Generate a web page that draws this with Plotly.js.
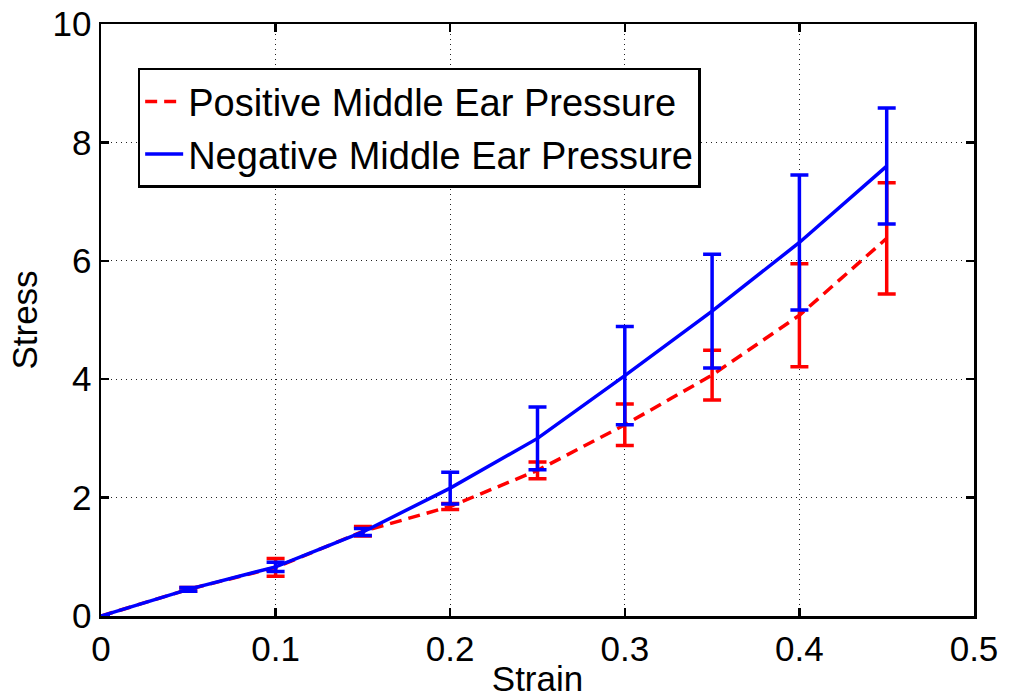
<!DOCTYPE html>
<html>
<head>
<meta charset="utf-8">
<script src="https://cdn.plot.ly/plotly-3.0.1.min.js"></script>
<style>html,body{margin:0;padding:0;background:#fff;}#chart{width:1011px;height:700px;}</style>
</head>
<body>
<div id="chart"></div>
<script>
var strain = [0, 0.05, 0.1, 0.15, 0.2, 0.25, 0.3, 0.35, 0.4, 0.45];
var posMean = [0, 0.45, 0.82, 1.43, 1.85, 2.46, 3.23, 4.07, 5.08, 6.38];
var posErr = [0, 0.03, 0.15, 0.08, 0.05, 0.14, 0.35, 0.42, 0.87, 0.94];
var negMean = [0, 0.45, 0.83, 1.42, 2.16, 3.0, 4.06, 5.15, 6.31, 7.6];
var negErr = [0, 0.03, 0.08, 0.06, 0.27, 0.53, 0.83, 0.96, 1.14, 0.98];
var seriesNames = ['Positive Middle Ear Pressure', 'Negative Middle Ear Pressure'];
var xTicks = [0, 0.1, 0.2, 0.3, 0.4, 0.5];
var yTicks = [0, 2, 4, 6, 8, 10];

var FONT = 'Liberation Sans, Arial, sans-serif';

var traces = [
  {
    x: strain, y: posMean, name: seriesNames[0], type: 'scatter', mode: 'lines',
    line: {color: '#ff0000', width: 3.5, dash: '12px,7px'},
    error_y: {type: 'data', array: posErr, visible: true, color: '#ff0000', thickness: 3.5, width: 9}
  },
  {
    x: strain, y: negMean, name: seriesNames[1], type: 'scatter', mode: 'lines',
    line: {color: '#0000ff', width: 3.5},
    error_y: {type: 'data', array: negErr, visible: true, color: '#0000ff', thickness: 3.5, width: 9}
  }
];

var axisCommon = {
  showline: true, linecolor: '#000', linewidth: 2.5, mirror: 'ticks',
  ticks: 'inside', ticklen: 8, tickwidth: 2.5, tickcolor: '#000',
  showgrid: true, gridcolor: '#222', gridwidth: 1, griddash: '1px,4px',
  zeroline: false, tickfont: {family: FONT, size: 35, color: '#000'}
};

var layout = {
  width: 1011, height: 700,
  margin: {l: 101, r: 37, t: 24, b: 84},
  paper_bgcolor: '#fff', plot_bgcolor: '#fff',
  showlegend: true,
  legend: {
    x: 0.042, y: 0.926, xanchor: 'left', yanchor: 'top',
    bordercolor: '#000', borderwidth: 2.5, bgcolor: '#fff',
    font: {family: FONT, size: 38, color: '#000'},
    itemwidth: 38,
    tracegroupgap: 0
  },
  xaxis: Object.assign({}, axisCommon, {
    range: [0, 0.5], tickvals: xTicks, ticktext: xTicks.map(String),
    title: {text: 'Strain', font: {family: FONT, size: 35, color: '#000'}, standoff: 0},
    automargin: false
  }),
  yaxis: Object.assign({}, axisCommon, {
    range: [0, 10], tickvals: yTicks, ticktext: yTicks.map(String),
    title: {text: 'Stress', font: {family: FONT, size: 35, color: '#000'}, standoff: 5},
    automargin: false
  })
};

Plotly.newPlot('chart', traces, layout, {displayModeBar: false, staticPlot: true});
</script>
</body>
</html>
